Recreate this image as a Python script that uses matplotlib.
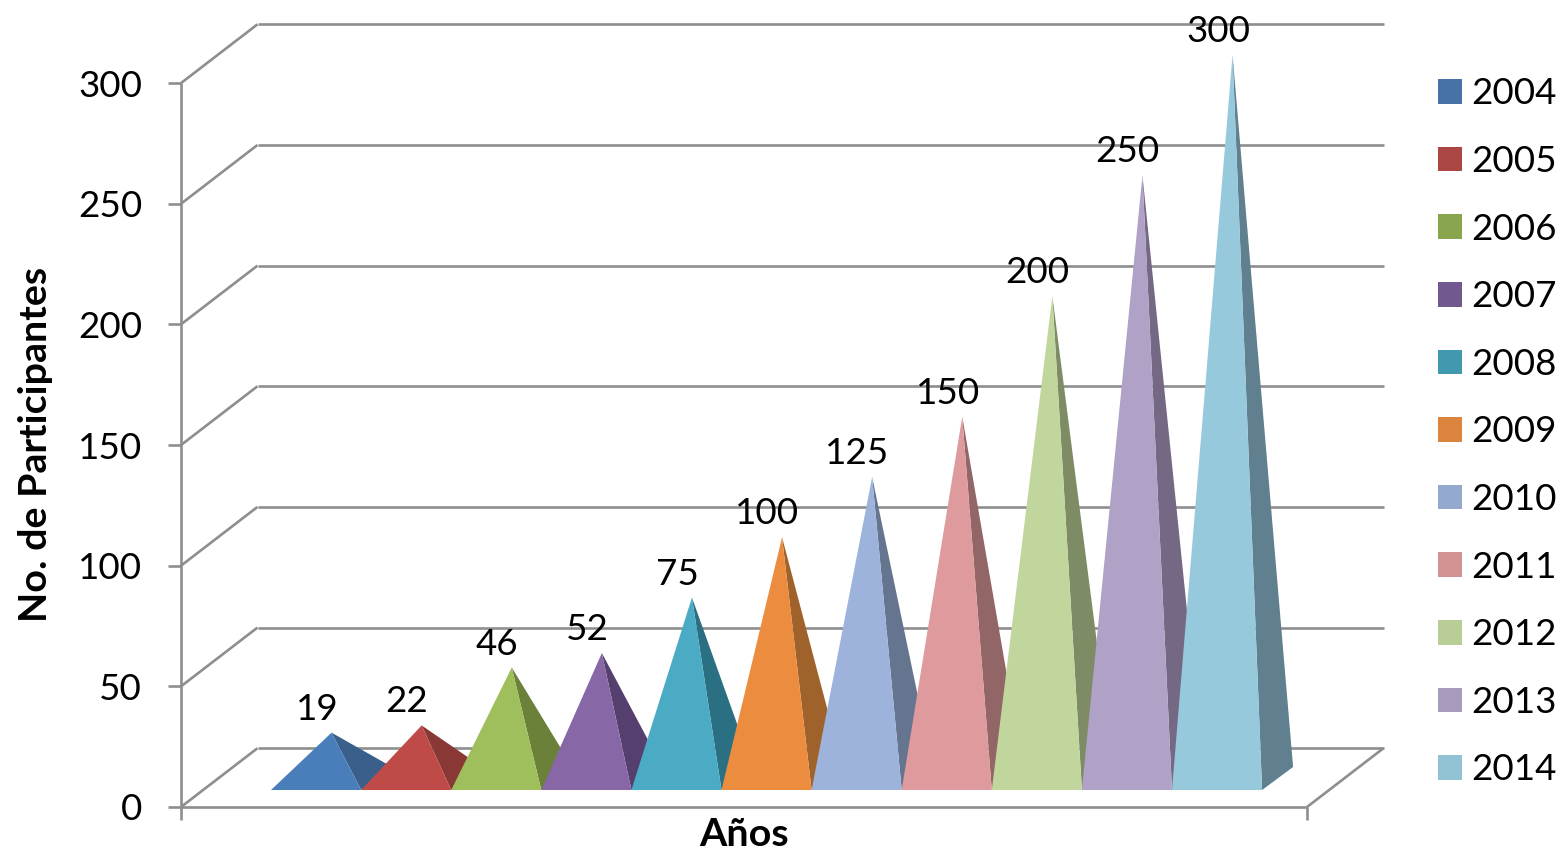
##encoding=UTF-8

"""
3D style pyramid chart of participants per year
"""

from matplotlib import pyplot as plt
from matplotlib.patches import Patch

years = ["2004", "2005", "2006", "2007", "2008", "2009", "2010", "2011", "2012", "2013", "2014"]
participants = [19, 22, 46, 52, 75, 100, 125, 150, 200, 250, 300]
y_ticks = [0, 50, 100, 150, 200, 250, 300]

front_colors = ["#4A7EBB", "#BE4B48", "#9FBE5C", "#8767A5", "#4BAAC4", "#EB8C3F",
                "#9DB3DC", "#DE9A9D", "#C1D69C", "#B0A1C6", "#97C9DC"]
side_colors = ["#3A5F8B", "#8A3836", "#6B8139", "#543F6F", "#2B7082", "#A0622B",
               "#66758F", "#926566", "#7E8C65", "#746884", "#60808F"]
legend_colors = ["#4672A8", "#AA4644", "#89A54E", "#71588F", "#4298AF", "#DB843D",
                 "#93A9CF", "#D19392", "#B9CD96", "#A99BBD", "#92C3D5"]

plt.rcParams["font.family"] = ["Lato", "DejaVu Sans"]

GRAY = "#8E8E8E"
FS = 26.5

# one category = 90.1 px, one participant = 2.413 px
px_x, px_y = 90.1, 2.413
x_origin, y_origin = 271.0, 807.0

fig = plt.figure(figsize=(15.62, 8.5), dpi=100)
ax = fig.add_axes([0, 0, 1, 1])
ax.set_xlim(-x_origin / px_x, (1562 - x_origin) / px_x)
ax.set_ylim((y_origin - 850) / px_y, y_origin / px_y)
ax.axis("off")

#################
# Walls / floor #
#################
wall_left, wall_right = (181 - x_origin) / px_x, (1307 - x_origin) / px_x
wall_dx, wall_dy = 76.5 / px_x, 58.8 / px_y
tick_x, tick_y = 13 / px_x, 13 / px_y

def wall_line(xs, ys):
    ax.plot(xs, ys, color=GRAY, lw=1.9, solid_capstyle="butt", zorder=1)

for v in y_ticks:
    wall_line([wall_left - tick_x, wall_left], [v, v])
    wall_line([wall_left, wall_left + wall_dx], [v, v + wall_dy])
    wall_line([wall_left + wall_dx, wall_right + wall_dx], [v + wall_dy, v + wall_dy])
    ax.text(wall_left - 39 / px_x, v, str(v), ha="right", va="center_baseline", fontsize=FS)

wall_line([wall_left, wall_left], [-tick_y, y_ticks[-1]])
wall_line([wall_left, wall_right], [0, 0])
wall_line([wall_right, wall_right], [-tick_y, 0])
wall_line([wall_right, wall_right + wall_dx], [0, wall_dy])

############
# Pyramids #
############
base_y = 17 / px_y
base_dx, base_dy = 31 / px_x, 23 / px_y

for i, value in enumerate(participants):
    apex_x = i + 0.5 + base_dx / 2
    apex_y = base_y + base_dy / 2 + value
    ax.fill([i + 1, i + 1 + base_dx, apex_x], [base_y, base_y + base_dy, apex_y],
            color=side_colors[i], lw=0, zorder=2 + i)
    ax.fill([i, i + 1, apex_x], [base_y, base_y, apex_y],
            color=front_colors[i], lw=0, zorder=2 + i)
    ax.text(i + 0.5 + 0.01, apex_y + 13 / px_y, str(value), ha="center", va="baseline",
            fontsize=FS, zorder=30)

##########
# Titles #
##########
ax.text((36 - x_origin) / px_x, (y_origin - 444) / px_y, "No. de Participantes", rotation=90,
        ha="center", va="center", fontsize=28.4, fontweight="bold")
ax.text((744 - x_origin) / px_x, (y_origin - 835) / px_y, "Años",
        ha="center", va="center", fontsize=28.4, fontweight="bold")

##########
# Legend #
##########
handles = [Patch(color=c, lw=0) for c in legend_colors]
ax.legend(handles, years, loc="upper left", frameon=False, fontsize=FS,
          bbox_to_anchor=(1438 / 1562, 1 - 77.5 / 850), bbox_transform=fig.transFigure,
          borderpad=0, borderaxespad=0, handlelength=0.65, handleheight=0.65,
          handletextpad=0.26, labelspacing=0.94)

fig.savefig("out.png", dpi=100)
